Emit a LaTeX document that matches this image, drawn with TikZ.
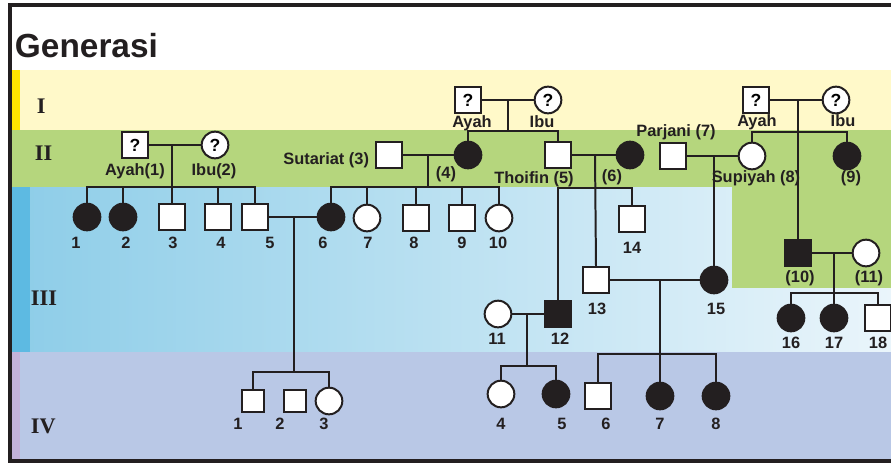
\documentclass[tikz,border=0pt]{standalone}
\usepackage{fontspec}
\setmainfont{Liberation Sans}
\newfontfamily\romfont{Liberation Serif}
\usetikzlibrary{positioning}
\definecolor{PedLine}{HTML}{231F20}
\definecolor{BandYellow}{HTML}{FFF9C9}
\definecolor{BandGreen}{HTML}{B5D67D}
\definecolor{BandBlueL}{HTML}{8DCDE8}
\definecolor{BandBlueR}{HTML}{EAF5FB}
\definecolor{BandLilac}{HTML}{B9C8E6}
\definecolor{StripYellow}{HTML}{FFE500}
\definecolor{StripBlue}{HTML}{5DBAE2}
\definecolor{StripLilac}{HTML}{C3B3DA}

\begin{document}
\begin{tikzpicture}[x=0.03cm,y=-0.03cm,line width=1.7pt,
  male/.style={draw=PedLine,fill=white,rectangle,minimum size=0.78cm,inner sep=0pt,font=\bfseries\fontsize{15}{15}\selectfont},
  female/.style={male,circle,minimum size=0.8cm},
  hit/.style={fill=PedLine},
  small/.style={minimum size=0.68cm},
  lab/.style={font=\bfseries\fontsize{14}{14}\selectfont,text=PedLine,inner sep=0pt,anchor=base},
  gen/.style={font=\romfont\bfseries\fontsize{19}{19}\selectfont,text=PedLine,inner sep=0pt,anchor=base west}]
  \useasboundingbox (0,0) rectangle (891,463);
  \fill[white] (0,0) rectangle (891,463);
  \fill[BandYellow] (10,70) rectangle (891,130);
  \fill[BandGreen] (10,130) rectangle (891,187);
  \fill[left color=BandBlueL,right color=BandBlueR] (10,187) rectangle (891,352);
  \fill[BandGreen] (732,187) rectangle (891,288);
  \fill[BandLilac] (10,352) rectangle (891,461);
  \fill[StripYellow] (12,70) rectangle (20,130);
  \fill[StripBlue] (12,187) rectangle (30,352);
  \fill[StripLilac] (12,352) rectangle (20,461);
  \draw[PedLine,line width=3pt] (891,5) -- (10,5) -- (10,461) -- (891,461);

  \node[font=\bfseries\fontsize{28.5}{28.5}\selectfont,text=PedLine,inner sep=0pt,anchor=base west] (title) at (14,57) {Generasi};
  \node[gen] (gI) at (36,113) {I};
  \node[gen] (gII) at (34,160) {II};
  \node[gen] (gIII) at (30,305) {III};
  \node[gen] (gIV) at (30,433) {IV};

  \node[male] (aI1) at (468,100) {?};
  \node[female] (iI1) at (548,100) {?};
  \node[male] (aI2) at (756,100) {?};
  \node[female] (iI2) at (836,100) {?};
  \node[lab] (laI1) at (472,127) {Ayah};
  \node[lab] (liI1) at (542,127) {Ibu};
  \node[lab] (laI2) at (757,126) {Ayah};
  \node[lab] (liI2) at (843,126) {Ibu};

  \node[male] (aII) at (135,145) {?};
  \node[female] (iII) at (215,145) {?};
  \node[male] (sut) at (389,155) {};
  \node[female,hit] (p4) at (468,155) {};
  \node[male] (thoi) at (558,155) {};
  \node[female,hit] (p6) at (630,155) {};
  \node[male] (parj) at (673,156) {};
  \node[female] (supi) at (752,156) {};
  \node[female,hit] (p9) at (847,156) {};
  \node[lab] (laII) at (135,175) {Ayah(1)};
  \node[lab] (liII) at (214,175) {Ibu(2)};
  \node[lab,anchor=base east] (lsut) at (370,164) {Sutariat (3)};
  \node[lab] (lp4) at (446,178) {(4)};
  \node[lab] (lthoi) at (534,183) {Thoifin (5)};
  \node[lab] (lp6) at (612,181) {(6)};
  \node[lab] (lparj) at (676,136) {Parjani (7)};
  \node[lab] (lsupi) at (756,182) {Supiyah (8)};
  \node[lab] (lp9) at (851,182) {(9)};

  \node[female,hit] (c1) at (87,217) {};
  \node[female,hit] (c2) at (123,217) {};
  \node[male] (c3) at (172,217) {};
  \node[male] (c4) at (218,217) {};
  \node[male] (c5) at (255,217) {};
  \node[female,hit] (d6) at (331,217) {};
  \node[female] (d7) at (367,218) {};
  \node[male] (d8) at (416,218) {};
  \node[male] (d9) at (462,218) {};
  \node[female] (d10) at (499,218) {};
  \node[male] (t14) at (632,219) {};
  \node[male] (t13) at (596,280) {};
  \node[female,hit] (p15) at (714,280) {};
  \node[female] (e11) at (498,314) {};
  \node[male,hit] (t12) at (558,314) {};
  \node[male,hit] (r10) at (798,253) {};
  \node[female] (r11) at (866,253) {};
  \node[female,hit] (k16) at (791,318) {};
  \node[female,hit] (k17) at (834,318) {};
  \node[male] (k18) at (878,318) {};
  \foreach \n/\x in {1/76,2/126,3/173,4/221,5/270,6/323,7/368,8/414,9/462,10/498}
    \node[lab] (nIII\n) at (\x,248) {\n};
  \node[lab] (nIII14) at (632,253) {14};
  \node[lab] (nIII13) at (597,314) {13};
  \node[lab] (nIII15) at (716,314) {15};
  \node[lab] (nIII11) at (497,344) {11};
  \node[lab] (nIII12) at (560,344) {12};
  \node[lab] (lr10) at (800,282) {(10)};
  \node[lab] (lr11) at (869,282) {(11)};
  \foreach \n/\x in {16/791,17/834,18/878}
    \node[lab] (nIII\n) at (\x,348) {\n};

  \node[male,small] (h1) at (253,401) {};
  \node[male,small] (h2) at (295,401) {};
  \node[female] (h3) at (329,401) {};
  \node[female] (g4) at (501,394) {};
  \node[female,hit] (g5) at (556,394) {};
  \node[male] (g6) at (598,396) {};
  \node[female,hit] (g7) at (660,396) {};
  \node[female,hit] (g8) at (716,396) {};
  \foreach \n/\x in {1/238,2/280,3/324,4/501,5/562,6/606,7/660,8/716}
    \node[lab] (nIV\n) at (\x,429) {\n};

  \coordinate (jI1) at (508,100);
  \coordinate (sI1) at (508,131);
  \coordinate (jI2) at (798,100);
  \coordinate (sI2) at (798,132);
  \coordinate (jII1) at (172,145);
  \coordinate (sII1) at (172,187);
  \coordinate (jII2) at (428,155);
  \coordinate (sII2) at (428,187);
  \coordinate (jII3) at (595,155);
  \coordinate (sII3) at (595,188);
  \coordinate (jII4) at (714,156);
  \coordinate (jIII1) at (294,217);
  \coordinate (sIII1) at (294,372);
  \coordinate (jIII2) at (527,314);
  \coordinate (sIII2) at (527,366);
  \coordinate (jIII3) at (660,280);
  \coordinate (sIII3) at (660,354);
  \coordinate (jIII4) at (834,253);
  \coordinate (sIII4) at (834,293);

  \begin{scope}[draw=PedLine]
    \foreach \a/\b in {aI1/iI1,aI2/iI2,aII/iII,sut/p4,thoi/p6,parj/supi,c5/d6,e11/t12,t13/p15,r10/r11}
      \draw (\a) -- (\b);
    \draw (jI1) -- (sI1);
    \draw (p4.north) |- (sI1) -| (thoi.north);
    \draw (jI2) -- (r10.north);
    \draw (supi.north) |- (sI2) -| (p9.north);
    \draw (jII1) -- (c3.north);
    \draw (c1.north) |- (sII1) -| (c5.north);
    \foreach \k in {c2,c4}
      \draw (\k.north) -- (\k.north |- sII1);
    \draw (jII2) -- (sII2);
    \draw (d6.north) |- (sII2) -| (d10.north);
    \foreach \k in {d7,d8,d9}
      \draw (\k.north) -- (\k.north |- sII2);
    \draw (jII3) -- (t13.north);
    \draw (t12.north) |- (sII3) -| (t14.north);
    \draw (jII4) -- (p15.north);
    \draw (jIII1) -- (sIII1);
    \draw (h1.north) |- (sIII1) -| (h3.north);
    \draw (jIII2) -- (sIII2);
    \draw (g4.north) |- (sIII2) -| (g5.north);
    \draw (jIII3) -- (g7.north);
    \draw (g6.north) |- (sIII3) -| (g8.north);
    \draw (jIII4) -- (k17.north);
    \draw (k16.north) |- (sIII4) -| (k18.north);
  \end{scope}
\end{tikzpicture}
\end{document}
